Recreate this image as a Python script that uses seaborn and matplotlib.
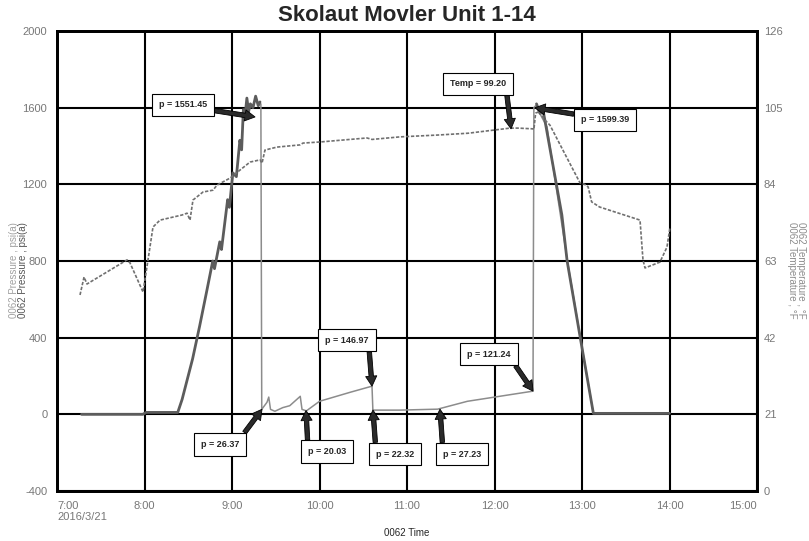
import matplotlib
matplotlib.use("Agg")
import numpy as np
import pandas as pd
import matplotlib.pyplot as plt
import seaborn as sns

# times are decimal hours on 2016/3/21
# thick pressure trace (fill ramp and bleed-down)
ramp_time = [7.28, 7.98, 8.02, 8.38, 8.43, 8.55, 8.63, 8.71, 8.78, 8.80, 8.86, 8.88, 8.95, 8.97,
             9.01, 9.05, 9.09, 9.11, 9.13, 9.15, 9.17, 9.19, 9.21, 9.24, 9.27, 9.30, 9.32]
ramp_psi = [0, 0, 10, 10, 78, 290, 460, 640, 800, 760, 900, 860, 1120, 1080,
            1260, 1240, 1430, 1380, 1590, 1560, 1650, 1580, 1620, 1600, 1660, 1610, 1630]
bleed_time = [12.48, 12.52, 12.55, 12.77, 12.83, 12.98, 13.13, 14.0]
bleed_psi = [1620, 1570, 1600, 1040, 800, 400, 5, 5]

# thin pressure trace (hold period)
hold_time = [9.33, 9.34, 9.40, 9.42, 9.44, 9.49, 9.58, 9.66, 9.78, 9.80, 9.85, 10.0, 10.35,
             10.60, 10.61, 10.92, 11.35, 11.69, 12.44, 12.45, 12.47, 12.60, 12.83, 12.98, 13.13, 14.0]
hold_psi = [1620, 26, 63, 90, 26, 16, 35, 45, 94, 26, 18, 68, 115,
            147, 22, 22, 27, 68, 121, 1600, 1610, 1500, 810, 405, 5, 5]

# temperature trace
temp_time = [7.263, 7.309, 7.343, 7.80, 7.834, 7.983, 8.04, 8.097, 8.177, 8.429, 8.486, 8.52,
             8.554, 8.669, 8.783, 8.829, 8.977, 9.091, 9.206, 9.32, 9.343, 9.377, 9.514, 9.777,
             9.811, 10.006, 10.543, 10.60, 10.92, 11.35, 11.70, 12.177, 12.269, 12.44, 12.45,
             12.47, 12.52, 12.56, 12.634, 12.829, 12.977, 13.03, 13.07, 13.11, 13.2, 13.663,
             13.697, 13.72, 13.891, 13.971, 14.006]
temp_f = [53.7, 58.6, 56.7, 63.3, 62.5, 54.5, 63.3, 72.3, 74.2, 75.6, 76.1, 74.2,
          79.7, 81.9, 82.4, 83.8, 85.7, 87.9, 90.1, 90.7, 89.8, 93.4, 94.2, 94.8,
          95.3, 95.6, 96.7, 96.3, 97.0, 97.5, 98.0, 99.4, 99.4, 99.2, 99.0,
          103.5, 104.0, 102.0, 100.2, 91.2, 84.4, 84.0, 83.3, 79.2, 77.8, 74.2,
          63.3, 61.1, 62.7, 66.8, 72.3]

x_ticks = [7, 8, 9, 10, 11, 12, 13, 14, 15]
x_labels = ["7:00\n2016/3/21", "8:00", "9:00", "10:00", "11:00", "12:00", "13:00", "14:00", "15:00"]
psi_ticks = [-400, 0, 400, 800, 1200, 1600, 2000]
temp_ticks = [0, 21, 42, 63, 84, 105, 126]

ann_text = ["p = 1551.45", "Temp = 99.20", "p = 1599.39", "p = 26.37", "p = 20.03",
            "p = 146.97", "p = 22.32", "p = 27.23", "p = 121.24"]
ann_time = [9.263, 12.189, 12.463, 9.343, 9.846, 10.6, 10.611, 11.377, 12.44]
ann_value = [1551.45, 99.20, 1599.39, 26.37, 20.03, 146.97, 22.32, 27.23, 121.24]
ann_is_temp = [False, True, False, False, False, False, False, False, False]
ann_offset = [(-72, 12), (-33, 45), (70, -12), (-42, -35), (21, -41), (-25, 46), (22, -44), (22, -45), (-44, 37)]
ann_relpos = [(1, 0), (1, 0), (0, 1), (1, 1), (0, 1), (1, 0), (0, 1), (0, 1), (1, 0)]

sns.set_style("white")
plt.rcParams['font.family'] = ['Liberation Sans Narrow', 'Liberation Sans', 'DejaVu Sans']

fig = plt.figure(figsize=(8.09, 5.41), dpi=100)
ax = fig.add_axes([57 / 809, 1 - 491 / 541, 700 / 809, 460 / 541])
ax2 = ax.twinx()

ramp = pd.DataFrame({"t": ramp_time, "p": ramp_psi})
bleed = pd.DataFrame({"t": bleed_time, "p": bleed_psi})
hold = pd.DataFrame({"t": hold_time, "p": hold_psi})
temp = pd.DataFrame({"t": temp_time, "T": temp_f})

sns.lineplot(data=hold, x="t", y="p", ax=ax, color="#8c8c8c", lw=1.1, estimator=None, sort=False)
sns.lineplot(data=ramp, x="t", y="p", ax=ax, color="#5c5c5c", lw=2.0, estimator=None, sort=False)
sns.lineplot(data=bleed, x="t", y="p", ax=ax, color="#5c5c5c", lw=2.0, estimator=None, sort=False)
sns.lineplot(data=temp, x="t", y="T", ax=ax2, color="#707070", lw=1.2, estimator=None, sort=False,
             linestyle=(0, (2, 1)))

ax.set_xlim(7, 15)
ax.set_ylim(-400, 2000)
ax2.set_ylim(0, 126)
ax.set_xticks(x_ticks)
ax.set_xticklabels(x_labels, fontsize=8, color="#777777")
xl = ax.get_xticklabels()
xl[0].set_ha("left")
xl[-1].set_ha("right")
ax.set_yticks(psi_ticks)
ax.set_yticklabels([str(v) for v in psi_ticks], fontsize=8, color="#777777")
ax2.set_yticks(temp_ticks)
ax2.set_yticklabels([str(v) for v in temp_ticks], fontsize=8, color="#777777")
ax.tick_params(axis="both", length=0, pad=7)
ax2.tick_params(axis="y", length=0, pad=5)
ax.grid(True, color="black", lw=1.5)
ax2.grid(False)
for a in (ax, ax2):
    for s in a.spines.values():
        s.set_color("black")
        s.set_linewidth(2)
ax.set_xlabel("")
ax.set_ylabel("")
ax2.set_ylabel("")

fig.text(0.503, 0.971, "Skolaut Movler Unit 1-14", ha="center", va="center", fontsize=16, fontweight="bold")
fig.text(407 / 809, 1 - 533 / 541, "0062 Time", ha="center", va="center", fontsize=7)
fig.text(14 / 809, 0.5, "0062 Pressure , psi(a)", rotation=90, ha="center", va="center", fontsize=7, color="#a0a0a0")
fig.text(23 / 809, 0.5, "0062 Pressure , psi(a)", rotation=90, ha="center", va="center", fontsize=7, color="#555555")
fig.text(792 / 809, 0.5, "0062 Temperature , °F", rotation=270, ha="center", va="center", fontsize=7, color="#8c8c8c")
fig.text(801 / 809, 0.5, "0062 Temperature , °F", rotation=270, ha="center", va="center", fontsize=7, color="#8c8c8c")

for txt, t, v, is_t, off, rp in zip(ann_text, ann_time, ann_value, ann_is_temp, ann_offset, ann_relpos):
    ax2.annotate(txt, xy=(t, v), xycoords=(ax2.transData if is_t else ax.transData),
                 xytext=off, textcoords="offset pixels", ha="center", va="center",
                 fontsize=6.5, fontweight="bold", annotation_clip=False,
                 bbox=dict(boxstyle="square,pad=0.75", fc="white", ec="black", lw=0.8),
                 arrowprops=dict(arrowstyle="simple,head_length=0.9,head_width=1.0,tail_width=0.4",
                                 mutation_scale=8, fc="#2a2a2a", ec="black", lw=0.6,
                                 shrinkA=0, shrinkB=0, relpos=rp))

fig.savefig("out.png", dpi=100)
